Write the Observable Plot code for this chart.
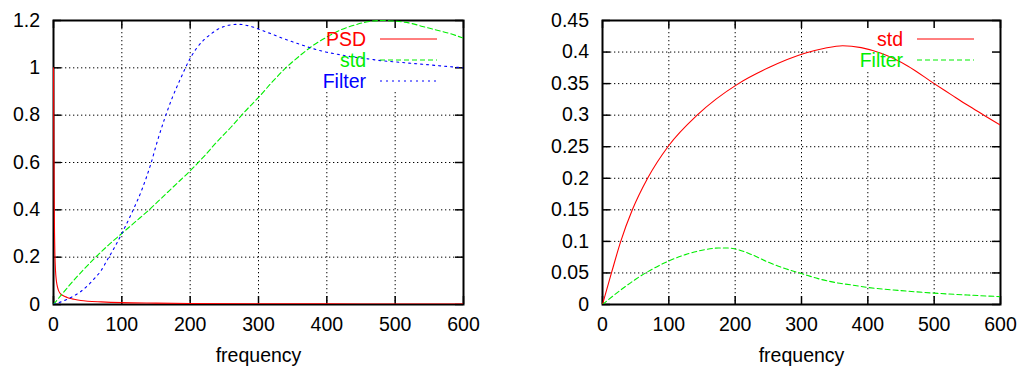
<!DOCTYPE html>
<html>
<head>
<meta charset="utf-8">
<script src="https://cdn.jsdelivr.net/npm/d3@7"></script>
<script src="https://cdn.jsdelivr.net/npm/@observablehq/plot@0.6"></script>
<style>
  html, body { margin: 0; padding: 0; background: white; }
  #wrap { position: relative; width: 1022px; height: 367px; }
  #wrap svg { position: absolute; top: 0; }
</style>
</head>
<body>
<div id="wrap"></div>
<script>
// ---------- data ----------
const xTicks = [0, 100, 200, 300, 400, 500, 600];
const yTicksLeft = [0, 0.2, 0.4, 0.6, 0.8, 1, 1.2];
const yTicksRight = [0, 0.05, 0.1, 0.15, 0.2, 0.25, 0.3, 0.35, 0.4, 0.45];

// left panel: PSD
const psdFreq = [0, 0.5, 1, 1.5, 2, 3, 4, 5, 7, 10, 15, 20, 25, 30, 40, 50, 70, 100, 150, 200, 300, 400, 500, 600];
const psdVal  = [1.0, 0.7, 0.45, 0.3, 0.22, 0.14, 0.105, 0.085, 0.062, 0.046, 0.036, 0.03, 0.025, 0.022, 0.017, 0.014, 0.011, 0.008, 0.006, 0.0045, 0.003, 0.0025, 0.002, 0.0015];

// left panel: std
const stdLFreq = [0, 20, 40, 60, 80, 100, 120, 140, 160, 180, 200, 220, 240, 260, 280, 300, 320, 340, 360, 380, 400, 420, 440, 460, 480, 500, 520, 540, 560, 580, 600];
const stdLVal  = [0, 0.07, 0.135, 0.195, 0.25, 0.3, 0.35, 0.4, 0.455, 0.51, 0.565, 0.625, 0.69, 0.75, 0.815, 0.875, 0.94, 1.0, 1.05, 1.095, 1.13, 1.16, 1.18, 1.195, 1.2, 1.197, 1.19, 1.175, 1.16, 1.145, 1.125];

// left panel: Filter
const filtLFreq = [0, 10, 20, 30, 40, 50, 60, 70, 79, 90, 100, 115, 130, 142, 152, 162, 174, 186, 200, 210, 220, 230, 240, 250, 260, 270, 280, 290, 300, 320, 340, 360, 380, 400, 420, 440, 460, 480, 500, 520, 540, 560, 580, 600];
const filtLVal  = [0, 0.01, 0.022, 0.037, 0.055, 0.08, 0.11, 0.145, 0.19, 0.245, 0.3, 0.39, 0.49, 0.59, 0.69, 0.78, 0.875, 0.955, 1.04, 1.085, 1.118, 1.142, 1.162, 1.175, 1.182, 1.184, 1.181, 1.174, 1.164, 1.142, 1.12, 1.1, 1.081, 1.066, 1.055, 1.045, 1.038, 1.03, 1.025, 1.02, 1.015, 1.01, 1.005, 1.0];

// right panel: std
const stdRFreq = [0, 13.5, 27.5, 45, 68, 100, 142.6, 205, 250, 305, 335, 362, 390, 420, 460, 500, 525, 550, 575, 600];
const stdRVal  = [0, 0.05, 0.1, 0.15, 0.2, 0.252, 0.3, 0.35, 0.375, 0.398, 0.406, 0.41, 0.407, 0.398, 0.378, 0.35, 0.333, 0.316, 0.3, 0.284];

// right panel: Filter
const filtRFreq = [0, 25, 50, 75, 100, 125, 150, 175, 190, 200, 225, 250, 275, 300, 325, 350, 375, 400, 450, 500, 550, 600];
const filtRVal  = [0, 0.021, 0.04, 0.056, 0.069, 0.079, 0.086, 0.0895, 0.0895, 0.088, 0.079, 0.067, 0.057, 0.049, 0.041, 0.035, 0.031, 0.027, 0.022, 0.018, 0.015, 0.0125];

const leftSeries = ["PSD", "std", "Filter"];
const rightSeries = ["std", "Filter"];

// ---------- styles ----------
const FONT = "Liberation Sans, Arial, Helvetica, sans-serif";
const FS = 19.5;
const RED = "#ff0000", GREEN = "#00ee00", BLUE = "#0000ff";
const dashGreen = "5,3", dashBlue = "2,4";
const W = 511, H = 367;
const MT = 20, MB = 63;

const zipXY = (xs, ys) => xs.map((x, i) => ({x, y: ys[i]}));

function keyBackground(n) {
  return (index, scales, values, dim) => {
    const right = dim.width - dim.marginRight;
    return d3.create("svg:rect")
      .attr("x", right - 170).attr("y", dim.marginTop)
      .attr("width", 170).attr("height", 10 + 20 * n)
      .attr("fill", "white").node();
  };
}

function keyMark(entries) {
  return (index, scales, values, dim) => {
    const right = dim.width - dim.marginRight;
    const g = d3.create("svg:g");
    entries.forEach((e, i) => {
      const y = dim.marginTop + 19 + 21 * i;
      g.append("text")
        .attr("x", right - 97).attr("y", y).attr("dy", "0.35em")
        .attr("text-anchor", "end")
        .attr("font-family", FONT).attr("font-size", FS)
        .attr("fill", e.color).text(e.label);
      g.append("line")
        .attr("x1", right - 83).attr("x2", right - 26)
        .attr("y1", y).attr("y2", y)
        .attr("stroke", e.color).attr("stroke-width", 1)
        .attr("stroke-dasharray", e.dash || null);
    });
    return g.node();
  };
}

function panel({yTicks, yMax, marginLeft, marginRight, series, legend}) {
  const innerW = W - marginLeft - marginRight;
  const innerH = H - MT - MB;
  const inner = v => v > 0 && v < 600;
  return Plot.plot({
    width: W, height: H,
    marginLeft, marginRight, marginTop: MT, marginBottom: MB,
    style: {fontFamily: FONT, fontSize: FS + "px", background: "white", overflow: "visible", color: "black"},
    x: {domain: [0, 600], ticks: xTicks, tickSize: 0, tickPadding: 12.5, label: null, tickFormat: d => String(d)},
    y: {domain: [0, yMax], ticks: yTicks, tickSize: 0, tickPadding: 13.5, label: null, tickFormat: d => String(d)},
    marks: [
      Plot.ruleX(xTicks.filter(inner), {stroke: "black", strokeWidth: 1, strokeDasharray: "1.3,2.7"}),
      Plot.ruleY(yTicks.filter(v => v > 0 && v < yMax), {stroke: "black", strokeWidth: 1, strokeDasharray: "1.3,2.7"}),
      keyBackground(legend.length),
      Plot.frame({stroke: "black", strokeWidth: 2}),
      Plot.tickX(xTicks, {x: d => d, stroke: "black", strokeWidth: 1.5, insetTop: innerH - 8}),
      Plot.tickX(xTicks, {x: d => d, stroke: "black", strokeWidth: 1.5, insetBottom: innerH - 8}),
      Plot.tickY(yTicks, {y: d => d, stroke: "black", strokeWidth: 1.5, insetRight: innerW - 8}),
      Plot.tickY(yTicks, {y: d => d, stroke: "black", strokeWidth: 1.5, insetLeft: innerW - 8}),
      ...series.map(s => Plot.line(s.data, {x: "x", y: "y", stroke: s.color, strokeWidth: 1.1, strokeDasharray: s.dash, curve: "monotone-x", clip: true})),
      keyMark(legend),
      Plot.text(["frequency"], {text: d => d, frameAnchor: "bottom", dy: 57, fontSize: FS, fill: "black"})
    ]
  });
}

const left = panel({
  yTicks: yTicksLeft, yMax: 1.2, marginLeft: 53, marginRight: 48,
  series: [
    {data: zipXY(psdFreq, psdVal), color: RED},
    {data: zipXY(stdLFreq, stdLVal), color: GREEN, dash: dashGreen},
    {data: zipXY(filtLFreq, filtLVal), color: BLUE, dash: dashBlue}
  ],
  legend: [
    {label: leftSeries[0], color: RED},
    {label: leftSeries[1], color: GREEN, dash: dashGreen},
    {label: leftSeries[2], color: BLUE, dash: dashBlue}
  ]
});

const right = panel({
  yTicks: yTicksRight, yMax: 0.45, marginLeft: 91, marginRight: 22,
  series: [
    {data: zipXY(stdRFreq, stdRVal), color: RED},
    {data: zipXY(filtRFreq, filtRVal), color: GREEN, dash: dashGreen}
  ],
  legend: [
    {label: rightSeries[0], color: RED},
    {label: rightSeries[1], color: GREEN, dash: dashGreen}
  ]
});

left.style.left = "0px";
right.style.left = "511px";
const wrap = document.getElementById("wrap");
wrap.appendChild(left);
wrap.appendChild(right);
</script>
</body>
</html>
